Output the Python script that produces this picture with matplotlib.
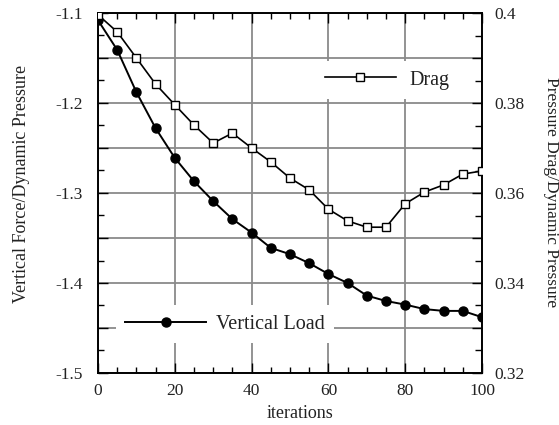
import matplotlib.pyplot as plt
from matplotlib.ticker import MultipleLocator, FuncFormatter

# values
iterations = [0, 5, 10, 15, 20, 25, 30, 35, 40, 45, 50,
              55, 60, 65, 70, 75, 80, 85, 90, 95, 100]
vertical_load = [-1.108, -1.141, -1.188, -1.228, -1.261, -1.287, -1.309,
                 -1.329, -1.344, -1.361, -1.368, -1.378, -1.390, -1.400,
                 -1.414, -1.420, -1.424, -1.429, -1.431, -1.431, -1.438]
drag = [0.3996, 0.3958, 0.3900, 0.3842, 0.3796, 0.3751, 0.3711, 0.3733,
        0.3700, 0.3669, 0.3633, 0.3607, 0.3564, 0.3538, 0.3524, 0.3524,
        0.3576, 0.3602, 0.3618, 0.3642, 0.3649]
x_ticks = [0, 20, 40, 60, 80, 100]

plt.rcParams["font.family"] = ["Liberation Serif", "DejaVu Serif"]
TXT = "#222222"
GRID = "#8a8a8a"

fig = plt.figure(figsize=(5.59, 4.25), dpi=100)
ax1 = fig.add_axes([98 / 559, 1 - 373 / 425, 384 / 559, 360 / 425])
ax2 = ax1.twinx()

ax1.plot(iterations, vertical_load, color="black", lw=1.4, marker="o",
         ms=6.5, mfc="black", mec="black", label="Vertical Load", zorder=3)
ax2.plot(iterations, drag, color="black", lw=1.2, marker="s",
         ms=5.5, mfc="white", mec="black", mew=1.0, label="Drag", zorder=3)

ax1.set_xlim(0, 100)
ax1.set_ylim(-1.5, -1.1)
ax2.set_ylim(0.32, 0.40)

ax1.set_xticks(x_ticks)
ax1.xaxis.set_minor_locator(MultipleLocator(5))
ax1.yaxis.set_major_locator(MultipleLocator(0.05))
ax1.yaxis.set_minor_locator(MultipleLocator(0.025))
ax1.yaxis.set_major_formatter(FuncFormatter(
    lambda v, p: f"{v:.1f}" if abs(v * 10 - round(v * 10)) < 1e-6 else ""))
ax2.yaxis.set_major_locator(MultipleLocator(0.01))
ax2.yaxis.set_minor_locator(MultipleLocator(0.005))
ax2.yaxis.set_major_formatter(FuncFormatter(
    lambda v, p: f"{round(v, 2):g}" if abs(v * 50 - round(v * 50)) < 1e-6 else ""))

ax1.grid(True, which="major", color=GRID, lw=1.3)
ax1.set_axisbelow(True)

ax1.tick_params(axis="both", which="both", direction="in", colors="black",
                labelcolor=TXT, labelsize=12.5, width=1.0)
ax1.tick_params(axis="x", which="both", top=True, bottom=True, pad=7)
ax1.tick_params(axis="y", which="both", left=True, right=False, pad=11)
ax1.tick_params(which="major", length=7)
ax1.tick_params(which="minor", length=4.5)
ax2.tick_params(axis="y", which="both", direction="in", labelcolor=TXT,
                labelsize=12.5, width=1.0, pad=9)
ax2.tick_params(which="major", length=7)
ax2.tick_params(which="minor", length=5)

for ax in (ax1, ax2):
    for sp in ax.spines.values():
        sp.set_linewidth(1.2)

leg1 = ax1.legend(loc="center left", bbox_to_anchor=(0.048, 0.136),
                  borderaxespad=0, frameon=True, fancybox=False,
                  edgecolor="white", facecolor="white", framealpha=1,
                  fontsize=14.5, handlelength=4.0, handletextpad=0.5,
                  borderpad=0.45, numpoints=1)
leg1.get_frame().set_linewidth(0)
for t in leg1.get_texts():
    t.set_color(TXT)

leg2 = ax2.legend(loc="center left", bbox_to_anchor=(0.568, 0.814),
                  borderaxespad=0, frameon=True, fancybox=False,
                  edgecolor="white", facecolor="white", framealpha=1,
                  fontsize=14.5, handlelength=3.5, handletextpad=0.7,
                  borderpad=0.45, numpoints=1)
leg2.get_frame().set_linewidth(0)
for t in leg2.get_texts():
    t.set_color(TXT)

fig.text(22 / 559, 1 - 184 / 425, "Vertical Force/Dynamic Pressure",
         rotation=90, ha="center", va="center", fontsize=13, color=TXT)
fig.text(551 / 559, 1 - 192 / 425, "Pressure Drag/Dynamic Pressure",
         rotation=270, ha="center", va="center", fontsize=12.5, color=TXT)
fig.text(300 / 559, 1 - 414 / 425, "iterations",
         ha="center", va="center", fontsize=13, color=TXT)

fig.savefig("out.png", dpi=100)
